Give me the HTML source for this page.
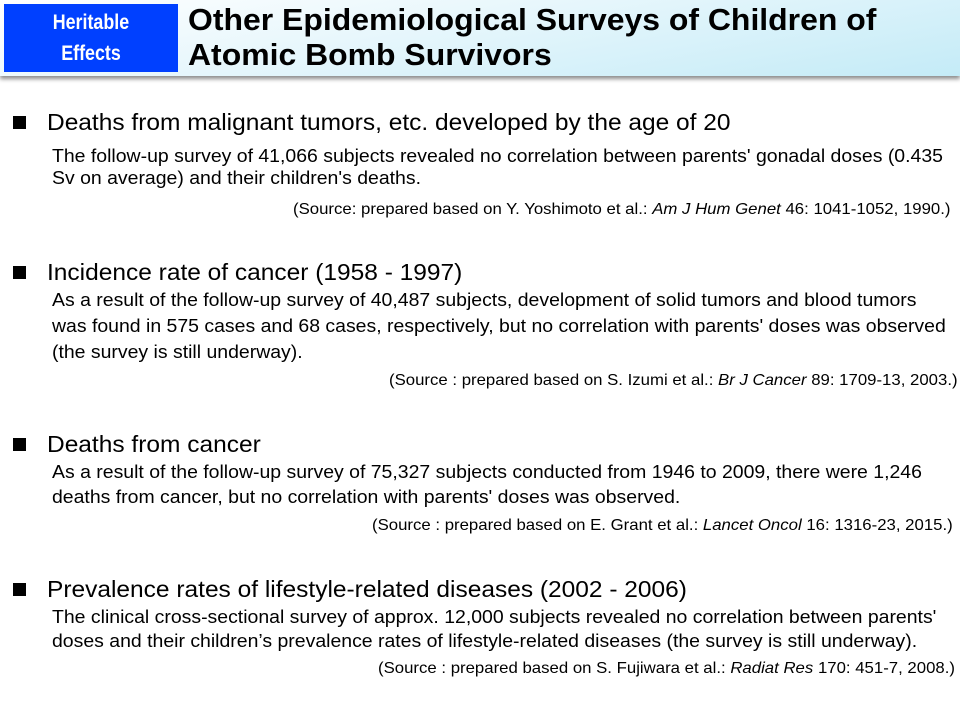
<!DOCTYPE html>
<html><head><meta charset="utf-8"><style>
body{margin:0;width:960px;height:720px;background:#fff;position:relative;overflow:hidden;font-family:"Liberation Sans",sans-serif;color:#000}
.hdr{position:absolute;left:0;top:0;width:960px;height:76px;background:linear-gradient(170deg,#ffffff 0%,#e8f7fc 40%,#c4ebf7 100%);box-shadow:0 3px 4px rgba(0,0,0,.45)}
.tag{position:absolute;left:4px;top:4px;width:174px;height:68px;background:#0040ff;color:#fff;font-weight:bold;font-size:21px;text-align:center;line-height:31px;padding-top:3px;box-sizing:border-box}
.tag span{display:inline-block;transform:scaleX(.85)}
.title{position:absolute;left:188px;top:2px;font-weight:bold;font-size:31px;line-height:35px;white-space:nowrap;transform:scaleX(1.03);transform-origin:left}
.t{position:absolute;white-space:nowrap;transform-origin:left}
.h{font-size:23px;left:47px;transform:scaleX(1.065)}
.b{font-size:18px;left:52px;transform:scaleX(1.08)}
.s{font-size:16px;transform:scaleX(1.048)}
.sq{position:absolute;left:13px;width:13px;height:13px;background:#000}
</style></head><body>
<div class="hdr"></div>
<div class="tag"><span>Heritable</span><br><span>Effects</span></div>
<div class="title">Other Epidemiological Surveys of Children of<br>Atomic Bomb Survivors</div>

<div class="sq" style="top:116px"></div>
<div class="t h" style="top:109px">Deaths from malignant tumors, etc. developed by the age of 20</div>
<div class="t b" style="top:146px">The follow-up survey of 41,066 subjects revealed no correlation between parents' gonadal doses (0.435</div>
<div class="t b" style="top:168px">Sv on average) and their children's deaths.</div>
<div class="t s" style="top:201px;left:293px">(Source: prepared based on Y. Yoshimoto et al.: <i>Am J Hum Genet</i> 46: 1041-1052, 1990.)</div>

<div class="sq" style="top:266px"></div>
<div class="t h" style="top:259px">Incidence rate of cancer (1958 - 1997)</div>
<div class="t b" style="top:290px">As a result of the follow-up survey of 40,487 subjects, development of solid tumors and blood tumors</div>
<div class="t b" style="top:316px">was found in 575 cases and 68 cases, respectively, but no correlation with parents' doses was observed</div>
<div class="t b" style="top:342px">(the survey is still underway).</div>
<div class="t s" style="top:372px;left:389px">(Source : prepared based on S. Izumi et al.: <i>Br J Cancer</i> 89: 1709-13, 2003.)</div>

<div class="sq" style="top:438px"></div>
<div class="t h" style="top:431px">Deaths from cancer</div>
<div class="t b" style="top:462px">As a result of the follow-up survey of 75,327 subjects conducted from 1946 to 2009, there were 1,246</div>
<div class="t b" style="top:487px">deaths from cancer, but no correlation with parents' doses was observed.</div>
<div class="t s" style="top:517px;left:372px">(Source : prepared based on E. Grant et al.: <i>Lancet Oncol</i> 16: 1316-23, 2015.)</div>

<div class="sq" style="top:583px"></div>
<div class="t h" style="top:576px">Prevalence rates of lifestyle-related diseases (2002 - 2006)</div>
<div class="t b" style="top:607px">The clinical cross-sectional survey of approx. 12,000 subjects revealed no correlation between parents'</div>
<div class="t b" style="top:631px">doses and their children’s prevalence rates of lifestyle-related diseases (the survey is still underway).</div>
<div class="t s" style="top:660px;left:378px">(Source : prepared based on S. Fujiwara et al.: <i>Radiat Res</i> 170: 451-7, 2008.)</div>
</body></html>
